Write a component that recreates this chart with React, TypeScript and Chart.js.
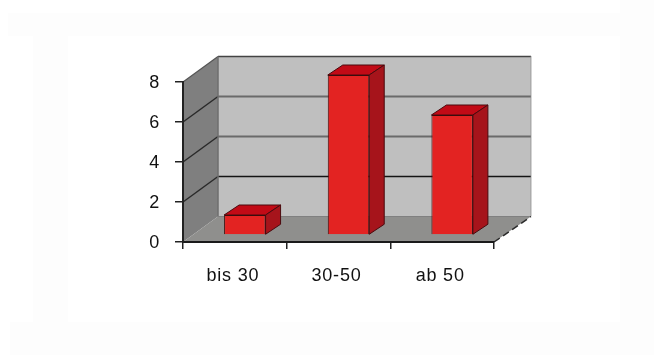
import React, { useEffect, useRef } from "react";
import { Chart, registerables } from "chart.js";

Chart.register(...registerables);

const categories = ["bis 30", "30-50", "ab 50"];
const counts = [1, 8, 6];
const gridValues = [2, 4, 6];

// Oblique projection of the box: wall depth and bar depth, in pixels.
const WALL_DX = 35;
const WALL_DY = -25.5;
const BAR_DX = 15;
const BAR_DY = -10;
const BAR_SHIFT_X = 10;
const BAR_SHIFT_Y = -7;

function poly(ctx: CanvasRenderingContext2D, pts: number[][], fill: string | null, stroke?: string, lw = 1) {
  ctx.beginPath();
  pts.forEach(([x, y], i) => (i ? ctx.lineTo(x, y) : ctx.moveTo(x, y)));
  ctx.closePath();
  if (fill) {
    ctx.fillStyle = fill;
    ctx.fill();
  }
  if (stroke) {
    ctx.strokeStyle = stroke;
    ctx.lineWidth = lw;
    ctx.stroke();
  }
}

function line(ctx: CanvasRenderingContext2D, x0: number, y0: number, x1: number, y1: number, color: string, lw: number, dash: number[] = []) {
  ctx.save();
  ctx.setLineDash(dash);
  ctx.strokeStyle = color;
  ctx.lineWidth = lw;
  ctx.beginPath();
  ctx.moveTo(x0, y0);
  ctx.lineTo(x1, y1);
  ctx.stroke();
  ctx.restore();
}

const box3d = {
  id: "box3d",
  beforeDraw(chart: any) {
    const ctx: CanvasRenderingContext2D = chart.ctx;
    const { x, y } = chart.scales;
    const left = x.left;
    const right = x.right;
    const y0 = y.getPixelForValue(0);
    const y8 = y.getPixelForValue(8);

    // Axis labels are set with open tracking.
    (ctx as any).letterSpacing = "0.8px";

    ctx.save();
    // Page panels behind the plot.
    ctx.fillStyle = "#ffffff";
    ctx.fillRect(0, 0, chart.width, chart.height);
    ctx.fillStyle = "#fdfdfd";
    ctx.fillRect(8, 13, 612, 23);
    ctx.fillRect(33, 36, 35, 286);
    ctx.fillRect(10, 322, 644, 33);
    ctx.fillRect(620, 0, 34, 322);

    // Back wall, side wall, floor.
    poly(ctx, [[left + WALL_DX, y8 + WALL_DY], [right + WALL_DX + 2, y8 + WALL_DY], [right + WALL_DX + 2, y0 + WALL_DY], [left + WALL_DX, y0 + WALL_DY]], "#bfbfbf");
    poly(ctx, [[left, y8], [left + WALL_DX, y8 + WALL_DY], [left + WALL_DX, y0 + WALL_DY], [left, y0]], "#7f7f7f");
    poly(ctx, [[left, y0], [right, y0], [right + WALL_DX + 2, y0 + WALL_DY], [left + WALL_DX, y0 + WALL_DY]], "#8f8f8d");

    // Grid lines fold from the side wall onto the back wall.
    gridValues.forEach((v) => {
      const py = y.getPixelForValue(v);
      const backColor = v === 2 ? "#141414" : "#6a6a6a";
      line(ctx, left, py, left + WALL_DX, py + WALL_DY, "#2a2a2a", 1.5);
      line(ctx, left + WALL_DX, py + WALL_DY, right + WALL_DX + 2, py + WALL_DY, backColor, v === 2 ? 1.5 : 2);
    });

    line(ctx, left + WALL_DX, y8 + WALL_DY, right + WALL_DX + 2, y8 + WALL_DY, "#444444", 1.5);
    line(ctx, left, y8, left + WALL_DX, y8 + WALL_DY, "#555555", 1.2);
    line(ctx, left + WALL_DX, y8 + WALL_DY, left + WALL_DX, y0 + WALL_DY, "#6e6e6e", 1.5);
    line(ctx, left + WALL_DX, y0 + WALL_DY, right + WALL_DX + 2, y0 + WALL_DY, "#808080", 1);
    line(ctx, right + WALL_DX + 2, y8 + WALL_DY, right + WALL_DX + 2, y0 + WALL_DY, "#8a8a8a", 1.5, [1, 1]);
    line(ctx, right, y0, right + WALL_DX + 2, y0 + WALL_DY, "#2a2a2a", 1.5, [7, 4]);
    ctx.restore();
  },
  beforeDatasetsDraw(chart: any) {
    const ctx: CanvasRenderingContext2D = chart.ctx;
    chart.getDatasetMeta(0).data.forEach((bar: any) => {
      const l = bar.x - bar.width / 2 + BAR_SHIFT_X;
      const r = bar.x + bar.width / 2 + BAR_SHIFT_X;
      const t = bar.y + BAR_SHIFT_Y;
      const b = bar.base + BAR_SHIFT_Y;
      poly(ctx, [[l, t], [l + BAR_DX, t + BAR_DY], [r + BAR_DX, t + BAR_DY], [r, t]], "#c20a16", "#4a0a0e", 1);
      poly(ctx, [[r, t], [r + BAR_DX, t + BAR_DY], [r + BAR_DX, b + BAR_DY], [r, b]], "#a6141b", "#4a0a0e", 1);
    });
    // Front faces are slid forward onto the floor.
    ctx.save();
    ctx.translate(BAR_SHIFT_X, BAR_SHIFT_Y);
  },
  afterDatasetsDraw(chart: any) {
    chart.ctx.restore();
  },
};

export default function App() {
  const ref = useRef<HTMLCanvasElement>(null);

  useEffect(() => {
    const font = { family: "'Liberation Sans', Arial, sans-serif", size: 18 };
    const chart = new Chart(ref.current!, {
      type: "bar",
      data: {
        labels: categories,
        datasets: [
          {
            data: counts,
            backgroundColor: "#e32322",
            borderColor: "#3a0d0d",
            borderWidth: 1,
            barPercentage: 0.4,
            categoryPercentage: 1,
            clip: false,
          } as any,
        ],
      },
      options: {
        animation: false,
        responsive: false,
        layout: { padding: { top: 82, right: 160, left: 0, bottom: 0 } },
        plugins: { legend: { display: false }, tooltip: { enabled: false } },
        scales: {
          x: {
            afterFit: (s: any) => {
              s.height = 113;
            },
            grid: { drawOnChartArea: false, drawTicks: true, tickLength: 7, color: "#222222", lineWidth: 1.5 },
            border: { color: "#1a1a1a", width: 2, dash: [2, 2] },
            ticks: { font, color: "#111111", padding: 16, maxRotation: 0, labelOffset: -2 },
          },
          y: {
            min: 0,
            max: 8,
            afterFit: (s: any) => {
              s.width = 183;
            },
            grid: { drawOnChartArea: false, drawTicks: true, tickLength: 8, color: "#222222", lineWidth: 1.5 },
            border: { color: "#222222", width: 2 },
            ticks: { font, color: "#111111", padding: 15, stepSize: 2, labelOffset: 1.5 },
          },
        },
      },
      plugins: [box3d],
    });
    return () => chart.destroy();
  }, []);

  return (
    <div style={{ position: "fixed", left: 0, top: 0, width: 654, height: 355 }}>
      <canvas ref={ref} width={654} height={355} style={{ display: "block" }} />
    </div>
  );
}
